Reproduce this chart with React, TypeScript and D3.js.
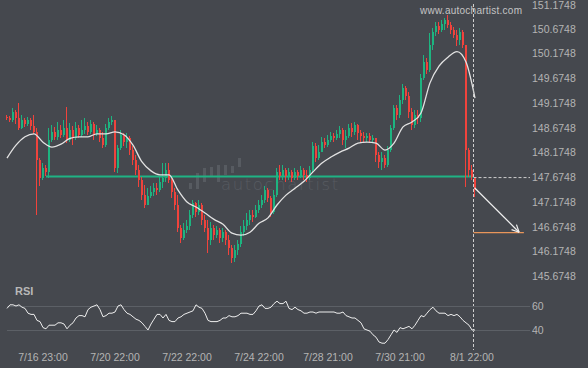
import React, { useEffect, useRef } from 'react';
import * as d3 from 'd3';

const W = 588;
const H = 368;

// candles (open of each bar = previous close)
const firstOpen = 148.89;
const closes = [
  148.87, 148.83, 148.99, 148.87, 148.67, 148.83, 148.75, 148.83, 148.71, 148.59,
  148.02, 147.65, 147.86, 147.78, 148.42, 148.59, 148.49, 148.63, 148.53, 148.67,
  148.42, 148.63, 148.46, 148.67, 148.53, 148.63, 148.71, 148.59, 148.75, 148.55,
  148.63, 148.46, 148.32, 148.67, 148.79, 148.83, 147.86, 148.26, 148.53, 148.38,
  148.46, 148.22, 148.02, 147.82, 147.61, 147.31, 147.11, 147.29, 147.37, 147.45,
  147.41, 147.57, 147.65, 147.82, 147.61, 147.37, 147.11, 146.64, 146.44, 146.60,
  146.68, 146.91, 147.15, 146.97, 147.11, 146.80, 146.64, 146.40, 146.64, 146.50,
  146.60, 146.44, 146.56, 146.40, 146.24, 146.04, 146.20, 146.32, 146.56, 146.68,
  146.80, 146.91, 146.87, 147.01, 147.11, 147.21, 147.41, 147.25, 146.97, 147.31,
  147.78, 147.70, 147.82, 147.70, 147.78, 147.65, 147.78, 147.70, 147.82, 147.72,
  147.65, 147.82, 148.30, 148.06, 148.18, 148.38, 148.32, 148.42, 148.51, 148.46,
  148.55, 148.63, 148.42, 148.51, 148.67, 148.59, 148.73, 148.57, 148.51, 148.46,
  148.51, 148.42, 148.46, 148.12, 147.98, 148.06, 147.92, 148.22, 148.67, 149.07,
  148.93, 149.23, 149.48, 149.31, 148.99, 148.73, 148.93, 148.87, 149.68, 150.00,
  149.84, 150.35, 150.61, 150.73, 150.65, 150.77, 150.85, 150.75, 150.65, 150.55,
  150.45, 150.61, 150.35, 148.22, 147.82, 147.67, 147.41,
];
const highs = [
  148.93, 148.91, 149.07, 149.03, 149.17, 148.93, 148.87, 148.89, 148.87, 148.93,
  148.67, 148.06, 147.96, 147.92, 148.67, 148.73, 148.69, 148.79, 148.73, 148.83,
  149.09, 148.77, 148.71, 148.79, 148.73, 148.83, 148.87, 148.79, 148.83, 148.79,
  148.73, 148.67, 148.59, 148.75, 148.87, 148.91, 148.83, 148.32, 148.63, 148.57,
  148.57, 148.51, 148.30, 148.12, 147.92, 147.67, 147.51, 147.45, 147.49, 147.55,
  147.55, 147.67, 147.96, 147.96, 147.96, 147.65, 147.45, 147.31, 146.70, 146.74,
  146.80, 147.01, 147.21, 147.17, 147.21, 147.15, 146.91, 146.80, 146.76, 146.70,
  146.68, 146.64, 146.64, 146.60, 146.50, 146.30, 146.30, 146.40, 146.68, 146.80,
  146.95, 147.01, 147.01, 147.11, 147.21, 147.31, 147.49, 147.45, 147.29, 147.41,
  147.86, 147.92, 147.92, 147.86, 147.86, 147.82, 147.86, 147.82, 147.90, 147.86,
  147.82, 147.90, 148.38, 148.36, 148.32, 148.49, 148.46, 148.53, 148.59, 148.57,
  148.63, 148.71, 148.67, 148.63, 148.75, 148.77, 148.79, 148.75, 148.63, 148.59,
  148.57, 148.57, 148.53, 148.46, 148.18, 148.18, 148.12, 148.30, 148.73, 149.13,
  149.13, 149.33, 149.56, 149.52, 149.40, 149.07, 149.03, 149.03, 149.76, 150.14,
  150.08, 150.59, 150.69, 150.81, 150.81, 150.85, 150.89, 150.95, 150.81, 150.71,
  150.65, 150.69, 150.65, 150.35, 148.26, 147.92, 147.51,
];
const lows = [
  148.83, 148.79, 148.79, 148.75, 148.63, 148.65, 148.69, 148.71, 148.63, 148.55,
  146.91, 147.49, 147.61, 147.70, 147.65, 148.38, 148.42, 148.42, 148.46, 148.49,
  148.36, 148.38, 148.32, 148.42, 148.46, 148.49, 148.55, 148.53, 148.55, 148.42,
  148.51, 148.38, 148.26, 148.28, 148.63, 148.73, 147.78, 147.76, 148.22, 148.30,
  148.26, 148.12, 147.92, 147.72, 147.47, 147.21, 147.05, 147.15, 147.25, 147.29,
  147.31, 147.37, 147.45, 147.57, 147.55, 147.25, 147.01, 146.56, 146.34, 146.40,
  146.54, 146.60, 146.85, 146.87, 146.91, 146.70, 146.56, 146.14, 146.30, 146.40,
  146.44, 146.34, 146.36, 146.30, 146.10, 145.93, 145.95, 146.10, 146.26, 146.48,
  146.60, 146.70, 146.76, 146.85, 146.95, 147.05, 147.15, 147.17, 146.87, 146.93,
  147.27, 147.61, 147.61, 147.57, 147.61, 147.57, 147.61, 147.61, 147.65, 147.61,
  147.57, 147.61, 147.78, 147.98, 148.02, 148.22, 148.26, 148.28, 148.38, 148.38,
  148.42, 148.46, 148.32, 148.26, 148.46, 148.49, 148.53, 148.42, 148.36, 148.36,
  148.38, 148.36, 148.36, 147.98, 147.86, 147.82, 147.86, 147.88, 148.18, 148.63,
  148.83, 148.87, 149.15, 149.23, 148.87, 148.63, 148.67, 148.75, 148.79, 149.64,
  149.76, 149.80, 150.25, 150.53, 150.57, 150.61, 150.65, 150.69, 150.57, 150.49,
  150.33, 150.35, 150.29, 147.47, 147.67, 147.61, 147.27,
];

// moving average, one value every 3 bars
const maStep = 3;
const maValues = [
  148.06, 148.32, 148.49, 148.55, 148.38, 148.28, 148.34, 148.46, 148.49, 148.49,
  148.55, 148.55, 148.59, 148.53, 148.32, 147.98, 147.80, 147.72, 147.72, 147.41,
  147.17, 147.07, 146.95, 146.82, 146.72, 146.54, 146.50, 146.56, 146.74, 146.85,
  147.11, 147.31, 147.45, 147.59, 147.78, 147.96, 148.08, 148.18, 148.26, 148.36,
  148.38, 148.36, 148.22, 148.36, 148.69, 148.79, 148.97, 149.58, 149.92, 150.10,
  150.21, 150.00, 149.27,
];

const rsiValues = [
  58, 61, 61, 60, 61, 59, 58, 54, 53, 53,
  48, 47, 42, 41, 44, 44, 44, 46, 46, 45,
  41, 44, 46, 50, 52, 52, 51, 57, 59, 60,
  61, 57, 51, 52, 54, 54, 55, 60, 61, 57,
  54, 53, 51, 49, 48, 46, 43, 40, 45, 49,
  53, 53, 50, 53, 48, 47, 47, 50, 51, 53,
  54, 55, 56, 61, 59, 58, 54, 48, 47, 47,
  47, 48, 50, 50, 52, 51, 51, 52, 54, 54,
  54, 53, 53, 56, 60, 61, 58, 58, 59, 62,
  64, 62, 62, 64, 58, 57, 59, 57, 56, 54,
  54, 55, 55, 54, 55, 55, 55, 55, 55, 55,
  54, 54, 55, 52, 51, 50, 50, 48, 46, 41,
  40, 39, 36, 34, 30, 29, 29, 32, 36, 40,
  38, 42, 41, 42, 43, 41, 44, 48, 52, 51,
  54, 57, 59, 56, 54, 54, 54, 52, 53, 52,
  53, 51, 48, 46, 44, 40, 40,
];

const priceTicks = d3.range(12).map((i) => 145.6748 + i * 0.5);
const rsiTicks = [40, 60];
const timeTickIdx = [12, 36, 60, 84, 107, 131, 155];
const timeLabels = ['7/16 23:00', '7/20 22:00', '7/22 22:00', '7/24 22:00', '7/28 21:00', '7/30 21:00', '8/1 22:00'];

const supportLevel = 147.6748;
const supportStartIdx = 13;
const nowIdx = 155.5;
const forecastFrom = 147.46;
const forecastLevel = 146.55;
const forecastArrowIdx = 170.7;
const forecastEndIdx = 172.3;

const BG = '#45484e';
const UP = '#1db480';
const DOWN = '#f0433c';
const TXT = '#b4b4b4';
const FONT = '"Liberation Sans", Arial, sans-serif';

const App = () => {
  const ref = useRef(null);

  useEffect(() => {
    const svg = d3.select(ref.current);
    svg.selectAll('*').remove();

    const x = d3.scaleLinear().domain([0, 156]).range([7, 475]);
    const y = d3.scaleLinear().domain([145.6748, 151.1748]).range([276, 4]);
    const yr = d3.scaleLinear().domain([40, 60]).range([330, 306]);

    svg.append('rect').attr('width', W).attr('height', H).attr('fill', BG);

    // watermark logo + text
    const wm = svg.append('g').attr('fill', '#575b61');
    const logo = [[189, 183, 189], [196, 173, 189], [203, 168, 182], [210, 167, 177], [217, 165, 182], [224, 165, 175], [231, 166, 173], [238, 158, 167]];
    logo.forEach(([lx, t, b]) => wm.append('rect').attr('x', lx).attr('y', t).attr('width', 3).attr('height', b - t));
    wm.append('text')
      .attr('x', 221).attr('y', 190)
      .attr('font-family', '"DejaVu Sans", sans-serif').attr('font-weight', 200)
      .attr('font-size', 16.5).attr('letter-spacing', 1.6)
      .text('autochartist');

    svg.append('text')
      .attr('x', 420).attr('y', 14)
      .attr('font-family', FONT).attr('font-size', 10).attr('letter-spacing', 0.25)
      .attr('fill', '#c4c4c4')
      .text('www.autochartist.com');

    // support line
    svg.append('line')
      .attr('x1', x(supportStartIdx)).attr('x2', x(nowIdx))
      .attr('y1', y(supportLevel) - 0.5).attr('y2', y(supportLevel) - 0.5)
      .attr('stroke', '#1fb384').attr('stroke-width', 2);

    // candles
    const opens = closes.map((c, i) => (i === 0 ? firstOpen : closes[i - 1]));
    const cg = svg.append('g').attr('shape-rendering', 'crispEdges');
    closes.forEach((c, i) => {
      const o = opens[i];
      const col = c >= o ? UP : DOWN;
      const cx = Math.round(x(i));
      const hi = Math.max(highs[i], o, c);
      const lo = Math.min(lows[i], o, c);
      cg.append('rect')
        .attr('x', cx - 1).attr('width', 1)
        .attr('y', y(hi)).attr('height', Math.max(1, y(lo) - y(hi)))
        .attr('fill', col);
      const top = y(Math.max(o, c));
      cg.append('rect')
        .attr('x', cx - 1).attr('width', 2)
        .attr('y', top).attr('height', Math.max(1, y(Math.min(o, c)) - top))
        .attr('fill', col);
    });

    // moving average
    const maLine = d3.line()
      .x((d, i) => x(i * maStep))
      .y((d) => y(d))
      .curve(d3.curveMonotoneX);
    svg.append('path')
      .attr('d', maLine(maValues))
      .attr('fill', 'none').attr('stroke', '#e2e2e2').attr('stroke-width', 1.3);

    // now line
    svg.append('line')
      .attr('x1', x(nowIdx)).attr('x2', x(nowIdx)).attr('y1', 4).attr('y2', 350)
      .attr('stroke', '#cfcfcf').attr('stroke-dasharray', '3,2');
    svg.append('line')
      .attr('x1', x(nowIdx)).attr('x2', 530)
      .attr('y1', y(supportLevel) + 0.5).attr('y2', y(supportLevel) + 0.5)
      .attr('stroke', '#cfcfcf').attr('stroke-dasharray', '3,2');

    // forecast
    svg.append('line')
      .attr('x1', x(nowIdx)).attr('x2', x(forecastEndIdx))
      .attr('y1', y(forecastLevel)).attr('y2', y(forecastLevel))
      .attr('stroke', '#e8955a').attr('stroke-width', 1.2);
    const ax1 = x(nowIdx) + 1, ay1 = y(forecastFrom);
    const ax2 = x(forecastArrowIdx), ay2 = y(forecastLevel) - 0.5;
    svg.append('line')
      .attr('x1', ax1).attr('y1', ay1).attr('x2', ax2).attr('y2', ay2)
      .attr('stroke', '#f0f0f0').attr('stroke-width', 1.2);
    const ang = Math.atan2(ay2 - ay1, ax2 - ax1);
    [-0.45, 0.45].forEach((da) => {
      svg.append('line')
        .attr('x1', ax2).attr('y1', ay2)
        .attr('x2', ax2 - 8 * Math.cos(ang + da)).attr('y2', ay2 - 8 * Math.sin(ang + da))
        .attr('stroke', '#f0f0f0').attr('stroke-width', 1.2);
    });

    // price axis labels
    svg.append('g').selectAll('text').data(priceTicks).join('text')
      .attr('x', 532).attr('y', (d) => Math.max(9, y(d) + 4))
      .attr('font-family', FONT).attr('font-size', 10.5).attr('fill', TXT)
      .text((d) => d.toFixed(4));

    // RSI panel
    svg.append('text')
      .attr('x', 15).attr('y', 295)
      .attr('font-family', FONT).attr('font-size', 11).attr('font-weight', 'bold')
      .attr('fill', '#b8b8b8').text('RSI');
    svg.append('g').selectAll('line').data(rsiTicks).join('line')
      .attr('x1', 7).attr('x2', 530)
      .attr('y1', (d) => yr(d) + 0.5).attr('y2', (d) => yr(d) + 0.5)
      .attr('stroke', '#5c6066');
    svg.append('g').selectAll('text').data(rsiTicks).join('text')
      .attr('x', 532).attr('y', (d) => yr(d) + 4)
      .attr('font-family', FONT).attr('font-size', 10.5).attr('fill', TXT)
      .text((d) => d);
    const rsiLine = d3.line()
      .x((d, i) => x(i))
      .y((d) => yr(d));
    svg.append('path')
      .attr('d', rsiLine(rsiValues))
      .attr('fill', 'none').attr('stroke', '#eeeeee').attr('stroke-width', 1);

    // time axis
    svg.append('g').selectAll('text').data(timeTickIdx).join('text')
      .attr('x', (d) => x(d)).attr('y', 361)
      .attr('text-anchor', 'middle')
      .attr('font-family', FONT).attr('font-size', 10.5).attr('fill', TXT)
      .text((d, i) => timeLabels[i]);
  }, []);

  return (
    <svg
      ref={ref}
      width={W}
      height={H}
      style={{ position: 'absolute', left: 0, top: 0, display: 'block' }}
    />
  );
};

export default App;
